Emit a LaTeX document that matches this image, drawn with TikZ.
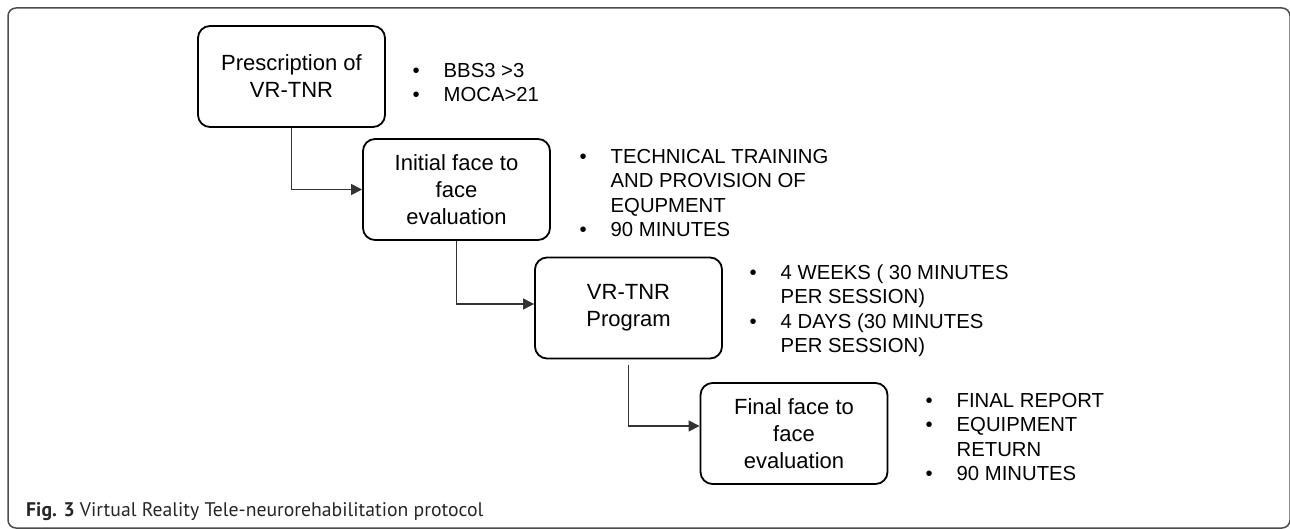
\documentclass[tikz,border=0pt]{standalone}
\usepackage{fontspec}
\setmainfont{Liberation Sans}
\newfontfamily\capfont{PT Sans}
\usepackage{tikz}
\usetikzlibrary{arrows.meta}
\tikzstyle{box}=[rectangle,rounded corners=12pt,draw,line width=1.8pt,fill=white,text=black,minimum width=187pt,minimum height=101pt,inner sep=0pt,align=center,font=\fontsize{22}{27}\selectfont]
\tikzstyle{flow}=[-{Triangle[length=11pt,width=11pt]},line width=1.1pt,draw=black!80]
\tikzstyle{notes}=[anchor=base west,inner sep=0pt,font=\fontsize{20.3}{24.5}\selectfont]
\tikzstyle{frame}=[rounded corners=8pt,line width=1.5pt,draw=black!70]
\newcommand{\notelist}[1]{\begin{tabular}[t]{@{}p{31pt}@{}l@{}}#1\end{tabular}}

\begin{document}
\begin{tikzpicture}[x=1pt,y=-1pt]
  \useasboundingbox (0,0) rectangle (1290,529);
  \draw[frame] (8,8) rectangle (1290,528);

  \node[box] (P) at (291.5,76.5) {Prescription of\\VR-TNR};
  \node[box] (I) at (456.5,189.5) {Initial face to\\face\\evaluation};
  \node[box] (V) at (628.5,308) {VR-TNR\\Program};
  \node[box] (F) at (794,433.5) {Final face to\\face\\evaluation};

  \node[notes] (nP) at (412.5,77.3) {\notelist{• & BBS3 >3\\ • & MOCA>21}};
  \node[notes] (nI) at (579.5,163.3) {\notelist{• & TECHNICAL TRAINING\\ & AND PROVISION OF\\ & EQUPMENT\\ • & 90 MINUTES}};
  \node[notes] (nV) at (749.5,279.3) {\notelist{• & 4 WEEKS ( 30 MINUTES\\ & PER SESSION)\\ • & 4 DAYS (30 MINUTES\\ & PER SESSION)}};
  \node[notes] (nF) at (925.5,407.3) {\notelist{• & FINAL REPORT\\ • & EQUIPMENT\\ & RETURN\\ • & 90 MINUTES}};

  \draw[flow] (P.south) |- (I.west);
  \draw[flow] (I.south) |- ([yshift=4pt]V.west);
  \draw[flow,shorten <=6pt] (V.south) |- ([yshift=7.5pt]F.west);

  \node[anchor=base west,inner sep=0pt,font=\capfont\fontsize{19.7}{19.7}\selectfont,text=black!85] (cap) at (26,516) {\textbf{Fig. 3} Virtual Reality Tele-neurorehabilitation protocol};
\end{tikzpicture}
\end{document}
